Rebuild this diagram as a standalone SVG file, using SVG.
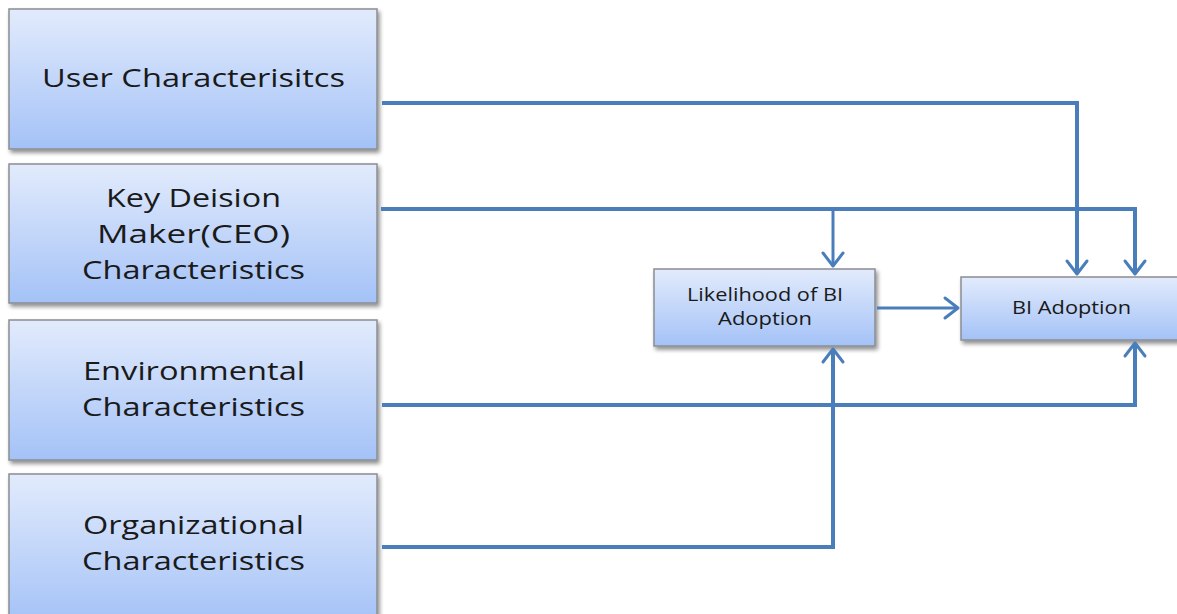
<svg xmlns="http://www.w3.org/2000/svg" width="1177" height="614" viewBox="0 0 1177 614">
  <style>
    .box { fill: url(#boxGrad); stroke: #8a8d93; stroke-width: 1.5; filter: url(#shadow); }
    .big { font-family: "Open Sans", "Liberation Sans", sans-serif; font-size: 26px; fill: #1a1a1a; text-anchor: middle; }
    .small { font-family: "Open Sans", "Liberation Sans", sans-serif; font-size: 18px; fill: #1a1a1a; text-anchor: middle; }
    .wire { fill: none; stroke: #4a7ebb; stroke-width: 4; }
    .thin { fill: none; stroke: #4a7ebb; stroke-width: 3; }
    .head { fill: none; stroke: #4a7ebb; stroke-width: 3; stroke-linecap: round; stroke-linejoin: round; }
  </style>
  <defs>
    <linearGradient id="boxGrad" x1="0" y1="0" x2="0" y2="1">
      <stop offset="0" stop-color="#e2ebfc"/>
      <stop offset="1" stop-color="#a4c2f7"/>
    </linearGradient>
    <filter id="shadow" x="-5%" y="-5%" width="115%" height="120%">
      <feGaussianBlur in="SourceAlpha" stdDeviation="2"/>
      <feOffset dx="2" dy="3"/>
      <feComponentTransfer><feFuncA type="linear" slope="0.45"/></feComponentTransfer>
      <feMerge><feMergeNode/><feMergeNode in="SourceGraphic"/></feMerge>
    </filter>
  </defs>
  <rect width="1177" height="614" fill="#ffffff"/>

  <g id="user">
    <rect class="box" x="9" y="9" width="368" height="140"/>
    <text class="big" x="193.5" y="87" textLength="303" lengthAdjust="spacingAndGlyphs">User Characterisitcs</text>
  </g>
  <g id="ceo">
    <rect class="box" x="9" y="164" width="368" height="139"/>
    <text class="big" x="193.5" y="207" textLength="175" lengthAdjust="spacingAndGlyphs">Key Deision</text>
    <text class="big" x="193.5" y="243" textLength="193" lengthAdjust="spacingAndGlyphs">Maker(CEO)</text>
    <text class="big" x="193.5" y="279" textLength="223" lengthAdjust="spacingAndGlyphs">Characteristics</text>
  </g>
  <g id="environment">
    <rect class="box" x="9" y="320" width="368" height="140"/>
    <text class="big" x="194" y="380" textLength="222" lengthAdjust="spacingAndGlyphs">Environmental</text>
    <text class="big" x="193.5" y="416" textLength="223" lengthAdjust="spacingAndGlyphs">Characteristics</text>
  </g>
  <g id="organization">
    <rect class="box" x="9" y="474" width="368" height="150"/>
    <text class="big" x="193.5" y="534" textLength="221" lengthAdjust="spacingAndGlyphs">Organizational</text>
    <text class="big" x="193.5" y="570" textLength="223" lengthAdjust="spacingAndGlyphs">Characteristics</text>
  </g>
  <g id="likelihood">
    <rect class="box" x="654" y="269" width="221" height="77"/>
    <text class="small" x="765" y="301" textLength="156" lengthAdjust="spacingAndGlyphs">Likelihood of BI</text>
    <text class="small" x="765" y="325" textLength="94" lengthAdjust="spacingAndGlyphs">Adoption</text>
  </g>
  <g id="adoption">
    <rect class="box" x="961" y="277" width="222" height="63"/>
    <text class="small" x="1071.5" y="314" textLength="119" lengthAdjust="spacingAndGlyphs">BI Adoption</text>
  </g>

  <g id="connectors">
    <!-- user -> BI adoption -->
    <polyline class="wire" points="382,103 1077,103 1077,274"/>
    <path class="head" d="M1067,261 L1077,274 L1087,261"/>
    <!-- CEO -> likelihood and BI adoption -->
    <polyline class="wire" points="381,209 1135,209 1135,274"/>
    <path class="head" d="M1125,261 L1135,274 L1145,261"/>
    <polyline class="thin" points="833,209 833,266"/>
    <path class="head" d="M823,253 L833,266 L843,253"/>
    <!-- likelihood -> BI adoption -->
    <line class="thin" x1="877" y1="308" x2="958" y2="308"/>
    <path class="head" d="M945,298 L958,308 L945,318"/>
    <!-- environment -> BI adoption -->
    <polyline class="wire" points="382,405 1135,405 1135,343"/>
    <path class="head" d="M1125,356 L1135,343 L1145,356"/>
    <!-- organization -> likelihood -->
    <polyline class="wire" points="382,547 833,547 833,349"/>
    <path class="head" d="M823,362 L833,349 L843,362"/>
  </g>
</svg>
